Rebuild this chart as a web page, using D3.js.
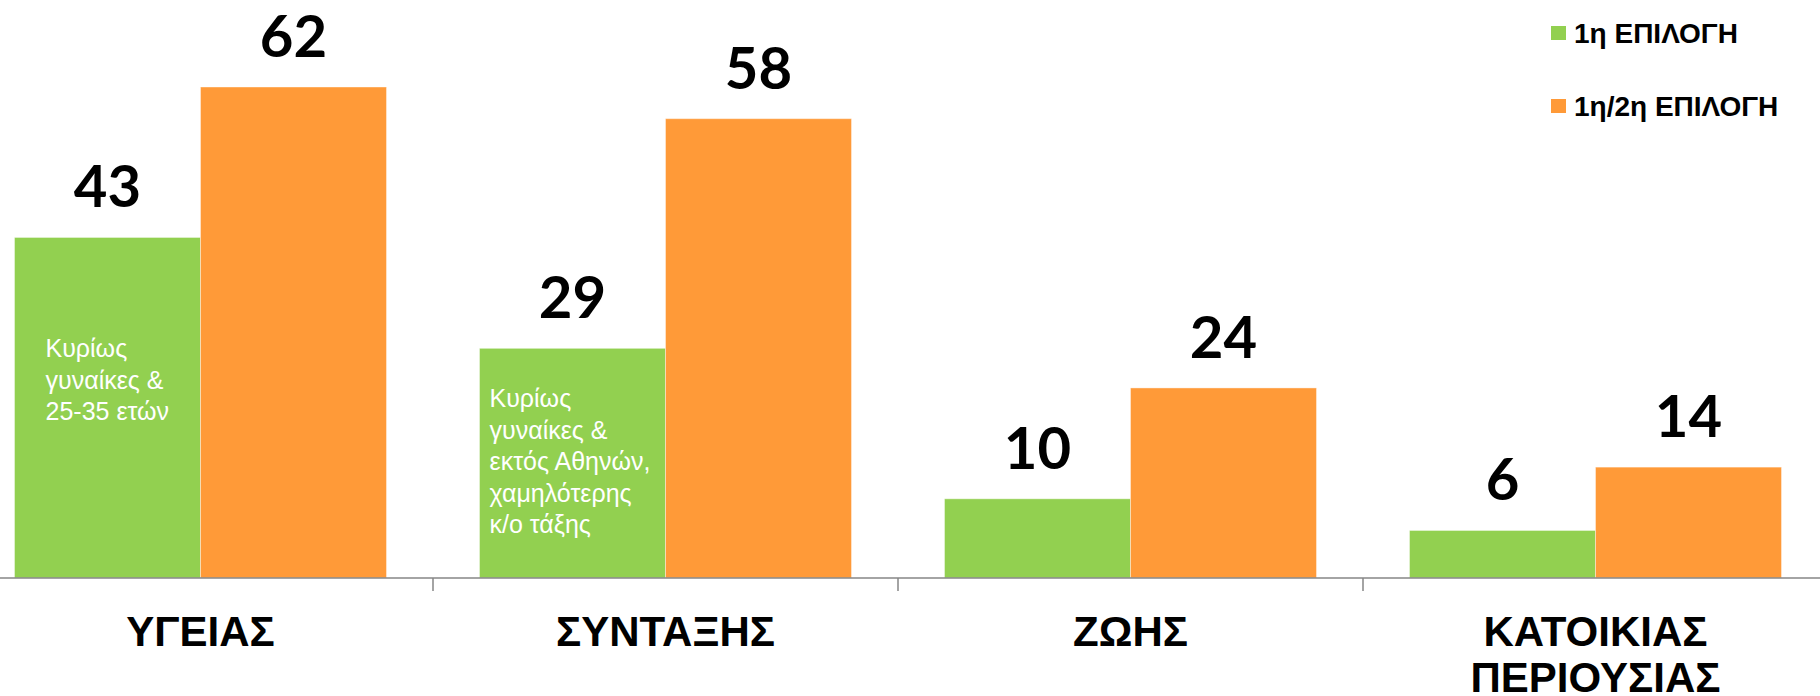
<!DOCTYPE html>
<html>
<head>
<meta charset="utf-8">
<script src="https://cdnjs.cloudflare.com/ajax/libs/d3/7.8.5/d3.min.js"></script>
<style>
    body { margin: 0; background: #fff; }
</style>
</head>
<body>
<div id="chart"></div>
<script>
    // chart values
    var categories = ["ΥΓΕΙΑΣ", "ΣΥΝΤΑΞΗΣ", "ΖΩΗΣ", "ΚΑΤΟΙΚΙΑΣ ΠΕΡΙΟΥΣΙΑΣ"];
    var seriesNames = ["1η ΕΠΙΛΟΓΗ", "1η/2η ΕΠΙΛΟΓΗ"];
    var firstChoice = [43, 29, 10, 6];
    var firstSecondChoice = [62, 58, 24, 14];
    var categoryLines = [["ΥΓΕΙΑΣ"], ["ΣΥΝΤΑΞΗΣ"], ["ΖΩΗΣ"], ["ΚΑΤΟΙΚΙΑΣ", "ΠΕΡΙΟΥΣΙΑΣ"]];
    var noteCategories = ["ΥΓΕΙΑΣ", "ΣΥΝΤΑΞΗΣ"];
    var noteLines = [
        ["Κυρίως", "γυναίκες &", "25-35 ετών"],
        ["Κυρίως", "γυναίκες &", "εκτός Αθηνών,", "χαμηλότερης", "κ/ο τάξης"]
    ];

    var width = 1820, height = 696;
    var colors = ["#92D050", "#FF9A38"];

    var svg = d3.select("#chart").append("svg")
        .attr("width", width)
        .attr("height", height);

    var x = d3.scaleBand().domain(categories).range([-32, 1828]);
    var y = d3.scaleLinear().domain([0, 62]).range([578, 87]);
    var barW = x.bandwidth() * 0.4;

    var series = [firstChoice, firstSecondChoice];

    // bars
    for (var s = 0; s < series.length; s++) {
        for (var i = 0; i < categories.length; i++) {
            var cx = x(categories[i]) + x.bandwidth() / 2;
            var bx = cx - barW + s * barW;
            var v = series[s][i];
            svg.append("rect")
                .attr("x", bx)
                .attr("y", y(v))
                .attr("width", barW)
                .attr("height", y(0) - y(v))
                .attr("fill", colors[s])
                .attr("stroke", "#ffffff")
                .attr("stroke-opacity", 0.4)
                .attr("stroke-width", 1);

            svg.append("text")
                .attr("x", bx + barW / 2)
                .attr("y", y(v) - 30)
                .attr("text-anchor", "middle")
                .style("font-family", "Lato, 'Open Sans', sans-serif")
                .style("font-weight", "bold")
                .style("font-size", "58px")
                .attr("fill", "#000")
                .text(v);
        }
    }

    // axis line + ticks between categories
    svg.append("line")
        .attr("x1", 0).attr("x2", width)
        .attr("y1", y(0)).attr("y2", y(0))
        .attr("stroke", "#868686")
        .attr("stroke-width", 1.5);

    for (var t = 1; t < categories.length; t++) {
        svg.append("line")
            .attr("x1", x(categories[t])).attr("x2", x(categories[t]))
            .attr("y1", y(0)).attr("y2", y(0) + 13)
            .attr("stroke", "#868686")
            .attr("stroke-width", 1.5);
    }

    // category labels
    for (var c = 0; c < categories.length; c++) {
        var lab = svg.append("text")
            .attr("text-anchor", "middle")
            .style("font-family", "'Liberation Sans', Arial, sans-serif")
            .style("font-weight", "bold")
            .style("font-size", "42px")
            .attr("fill", "#000");
        for (var k = 0; k < categoryLines[c].length; k++) {
            lab.append("tspan")
                .attr("x", x(categories[c]) + x.bandwidth() / 2)
                .attr("y", 646 + k * 46)
                .text(categoryLines[c][k]);
        }
    }

    // notes inside the green bars
    var noteOffsets = [{ dx: 31, top: 357 }, { dx: 10, top: 407 }];
    for (var n = 0; n < noteCategories.length; n++) {
        var gx = x(noteCategories[n]) + x.bandwidth() / 2 - barW;
        var note = svg.append("text")
            .style("font-family", "'Liberation Sans', Arial, sans-serif")
            .style("font-size", "25px")
            .attr("fill", "#ffffff");
        for (var m = 0; m < noteLines[n].length; m++) {
            note.append("tspan")
                .attr("x", gx + noteOffsets[n].dx)
                .attr("y", noteOffsets[n].top + m * 31.5)
                .text(noteLines[n][m]);
        }
    }

    // legend
    var legend = svg.append("g").attr("transform", "translate(1551,26)");
    for (var l = 0; l < seriesNames.length; l++) {
        var row = legend.append("g").attr("transform", "translate(0," + (l * 73) + ")");
        row.append("rect")
            .attr("width", 15)
            .attr("height", 14)
            .attr("fill", colors[l]);
        row.append("text")
            .attr("x", 23)
            .attr("y", 17)
            .style("font-family", "'Liberation Sans', Arial, sans-serif")
            .style("font-weight", "bold")
            .style("font-size", "28px")
            .attr("fill", "#000")
            .text(seriesNames[l]);
    }
</script>
</body>
</html>
